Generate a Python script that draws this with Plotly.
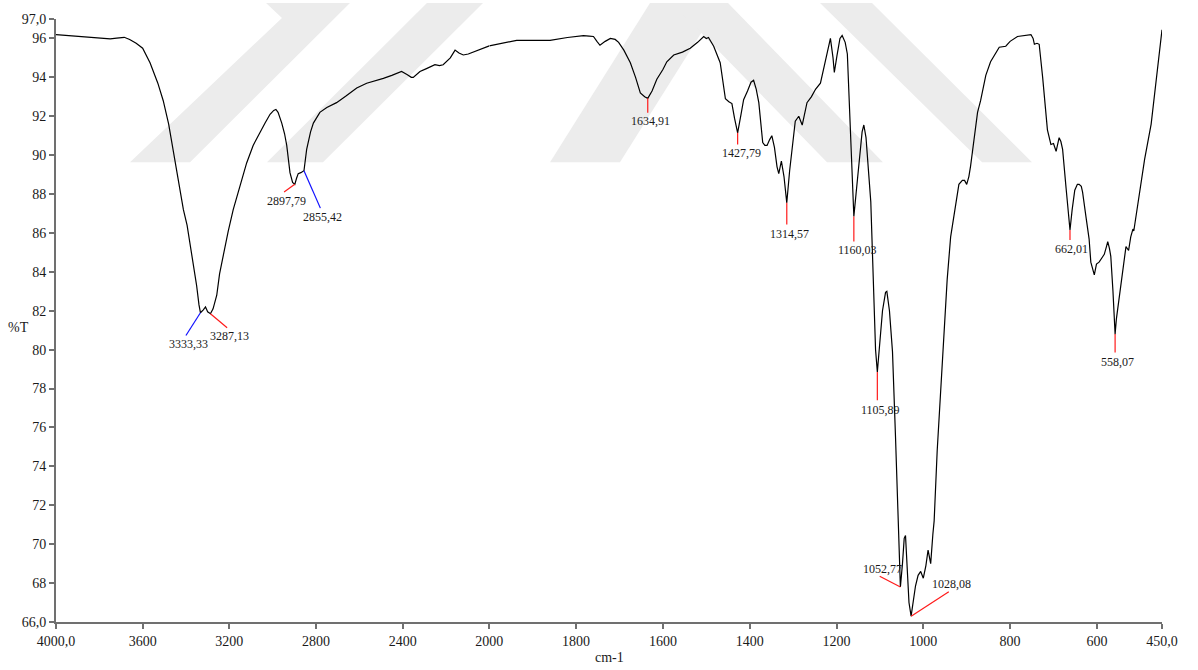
import plotly.graph_objects as go

# FTIR spectrum: wavenumber (cm-1) and transmittance (%T)
wavenumber = [
    4000, 3950, 3900, 3850, 3800, 3750, 3720, 3700, 3685, 3660, 3630, 3600,
    3566, 3530, 3505, 3480, 3451, 3430, 3412, 3395, 3382, 3365, 3351, 3340,
    3333.33, 3320, 3310, 3300, 3287.13, 3275, 3258, 3245, 3228, 3205, 3182,
    3150, 3120, 3090, 3058, 3035, 3012, 2995, 2985, 2975, 2958, 2945, 2935,
    2920, 2908, 2897.79, 2890, 2882, 2870, 2855.42, 2843, 2825, 2812, 2795,
    2782, 2750, 2705, 2660, 2612, 2566, 2530, 2489, 2450, 2405, 2380, 2360,
    2351, 2320, 2290, 2251, 2230, 2213, 2180, 2158, 2140, 2120, 2097, 2060,
    2028, 2000, 1970, 1937, 1900, 1860, 1820, 1783, 1770, 1760, 1752, 1745,
    1733, 1721, 1710, 1702, 1690, 1675, 1663, 1652, 1642, 1634.91, 1625, 1614,
    1600, 1591, 1575, 1555, 1537, 1520, 1506, 1500, 1495, 1483, 1468, 1460,
    1456, 1448, 1441, 1435, 1427.79, 1420, 1414, 1405, 1397, 1391, 1385, 1379,
    1374, 1370, 1365, 1360, 1354, 1349, 1343, 1337, 1333, 1327, 1321, 1314.57,
    1308, 1300, 1295, 1287, 1279, 1268, 1258, 1248, 1237, 1228, 1220, 1214,
    1208, 1205, 1199, 1192, 1187, 1180, 1175, 1168, 1163, 1160.03, 1155, 1148,
    1141, 1137, 1132, 1121, 1113, 1110, 1105.89, 1100, 1094, 1087, 1084, 1078,
    1071, 1064, 1060, 1055, 1052.77, 1048, 1044, 1041, 1037, 1033, 1028.08,
    1023, 1018, 1012, 1006, 1000, 994, 989, 985, 983, 978, 975, 968, 960, 952,
    945, 937, 929, 918, 910, 905, 900, 895, 891, 882, 875, 868, 856, 845, 837,
    825, 810, 800, 783, 770, 760, 752, 747, 744, 738, 733, 725, 714, 706, 700,
    694, 687, 683, 679, 671, 666, 662.01, 657, 651, 645, 641, 636, 633, 625,
    618, 614, 610, 606, 601, 595, 589, 583, 578, 575, 571, 568, 563, 558.07,
    555, 552, 546, 540, 533, 530, 527, 522, 517, 515, 500, 490, 475, 462, 450,
]
transmittance = [
    96.20, 96.15, 96.12, 96.05, 96.00, 95.98, 96.02, 96.05, 96.06, 95.95, 95.75, 95.50,
    94.75, 93.70, 92.80, 91.60, 89.80, 88.40, 87.20, 86.40, 85.50, 84.40, 83.30, 82.30,
    81.90, 82.05, 82.20, 81.95, 81.85, 82.10, 82.80, 83.90, 84.90, 86.10, 87.20,
    88.50, 89.60, 90.50, 91.20, 91.65, 92.10, 92.30, 92.35, 92.20, 91.65, 91.10, 90.50,
    89.10, 88.60, 88.50, 88.80, 89.05, 89.10, 89.20, 90.30, 91.20, 91.65, 92.00,
    92.20, 92.45, 92.70, 93.05, 93.45, 93.70, 93.80, 93.95, 94.10, 94.30, 94.15, 94.00,
    94.00, 94.30, 94.45, 94.65, 94.60, 94.65, 95.00, 95.40, 95.25, 95.15, 95.20, 95.35,
    95.50, 95.62, 95.75, 95.90, 95.90, 95.90, 96.05, 96.15, 96.12, 96.10, 95.85, 95.65,
    95.85, 96.00, 95.95, 95.80, 95.40, 94.75, 94.00, 93.20, 93.00, 92.92, 93.30, 93.90,
    94.40, 94.80, 95.15, 95.30, 95.50, 95.80, 96.10, 96.00, 96.05, 95.60, 94.75, 93.60,
    92.90, 92.75, 92.65, 91.90, 91.15, 92.10, 92.85, 93.30, 93.75, 93.85, 93.40, 92.70,
    91.50, 90.65, 90.50, 90.50, 90.80, 91.00, 90.40, 89.40, 89.05, 89.70, 88.90, 87.55,
    89.20, 91.00, 91.75, 92.00, 91.55, 92.70, 93.00, 93.40, 93.70, 94.60, 95.50, 96.00,
    95.00, 94.25, 95.10, 96.00, 96.15, 95.80, 95.20, 91.50, 88.00, 86.85, 88.00, 89.80,
    91.20, 91.55, 90.90, 87.60, 82.50, 80.00, 78.85, 80.30, 82.00, 82.95, 83.00, 82.00,
    79.90, 75.50, 72.90, 69.50, 67.80, 69.00, 70.30, 70.45, 68.80, 67.00, 66.30,
    67.20, 67.85, 68.40, 68.60, 68.25, 68.90, 69.70, 69.30, 69.00, 70.50, 71.20, 74.80, 78.00, 80.80,
    83.60, 85.80, 87.00, 88.50, 88.70, 88.70, 88.50, 88.90, 89.45, 91.00, 92.20, 92.80, 94.10, 94.80, 95.10,
    95.55, 95.60, 95.85, 96.10, 96.15, 96.20, 96.20, 96.00, 95.70, 95.75, 95.70, 94.00, 91.30, 90.55, 90.60,
    90.20, 90.90, 90.70, 90.30, 88.30, 87.00, 86.15, 87.20, 88.20, 88.50, 88.50, 88.40, 88.10, 86.80,
    85.70, 84.50, 84.10, 83.85, 84.40, 84.50, 84.70, 84.90, 85.30, 85.55, 85.20, 84.80, 83.00, 80.80,
    81.60, 82.10, 83.00, 83.85, 85.30, 85.20, 85.10, 85.80, 86.20, 86.10, 88.40, 89.80, 91.60, 94.00, 96.45,
]

# Labelled bands
peak_wavenumber = [3333.33, 3287.13, 2897.79, 2855.42, 1634.91, 1427.79, 1314.57,
                   1160.03, 1105.89, 1052.77, 1028.08, 662.01, 558.07]
peak_transmittance = [81.90, 81.85, 88.50, 89.20, 92.92, 91.15, 87.55,
                      86.85, 78.85, 67.80, 66.30, 86.15, 80.80]
peak_label = ["3333,33", "3287,13", "2897,79", "2855,42", "1634,91", "1427,79", "1314,57",
              "1160,03", "1105,89", "1052,77", "1028,08", "662,01", "558,07"]

# Axis ticks (the wavenumber scale is expanded below 2000 cm-1)
x_hi_ticks = [4000, 3600, 3200, 2800, 2400]
x_hi_text = ["4000,0", "3600", "3200", "2800", "2400"]
x_lo_ticks = [2000, 1800, 1600, 1400, 1200, 1000, 800, 600, 450]
x_lo_text = ["2000", "1800", "1600", "1400", "1200", "1000", "800", "600", "450,0"]
y_ticks = [66, 68, 70, 72, 74, 76, 78, 80, 82, 84, 86, 88, 90, 92, 94, 96, 97]
y_text = ["66,0", "68", "70", "72", "74", "76", "78", "80", "82", "84", "86", "88",
          "90", "92", "94", "96", "97,0"]

# ---- leader-line styling: (colour, line dx, line dy, label dx, label dy) in pixels,
# dy measured downwards on screen
leaders = [
    ("#1010ff", -14.5, 22.8, -12, 31),
    ("#ff1a1a", 16.7, 14.0, 19.5, 22),
    ("#ff1a1a", -10.7, 7.6, -8, 17),
    ("#1010ff", 16.4, 37.4, 19, 46.7),
    ("#ff1a1a", 0, 14.3, 2.7, 22.3),
    ("#ff1a1a", 0, 11.7, 3.4, 20),
    ("#ff1a1a", 0, 21.7, 3, 30.7),
    ("#ff1a1a", 0, 25.0, 3.4, 33.4),
    ("#ff1a1a", 0, 28.3, 3.3, 38.3),
    ("#ff1a1a", -20.7, -10.7, -18.3, -18.4),
    ("#ff1a1a", 37.7, -24.3, 40, -32),
    ("#ff1a1a", 0, 10.0, 1.4, 19.4),
    ("#ff1a1a", 0, 18.3, 2.4, 27.6),
]

W, H = 1198, 670
ML, MR, MT, MB = 56, 36, 16, 48
PW, PH = W - ML - MR, H - MT - MB
SPLIT = 2000.0
# 2000 cm-1 sits at 433.3 px of the 1106 px plot width
split_frac = 433.3 / PW

hi = [(w, t) for w, t in zip(wavenumber, transmittance) if w >= SPLIT]
lo = [(w, t) for w, t in zip(wavenumber, transmittance) if w <= SPLIT]

fig = go.Figure()
fig.add_trace(go.Scatter(x=[p[0] for p in hi], y=[p[1] for p in hi], mode="lines",
                         line=dict(color="#000000", width=1.2), xaxis="x", yaxis="y",
                         hoverinfo="skip"))
fig.add_trace(go.Scatter(x=[p[0] for p in lo], y=[p[1] for p in lo], mode="lines",
                         line=dict(color="#000000", width=1.2), xaxis="x2", yaxis="y",
                         hoverinfo="skip"))

FONT = "Liberation Serif, Times New Roman, serif"
tickfont = dict(family=FONT, size=14, color="#1a1a1a")
AXIS_COLOR = "#707070"

# Background watermark stripes, given as page-pixel polygons
def px_path(points):
    pts = [((x - ML) / PW, (H - MB - y) / PH) for x, y in points]
    return "M " + " L ".join(f"{a:.4f},{b:.4f}" for a, b in pts) + " Z"

watermark_polys = [
    [(130, 160), (190, 160), (350, 0), (266, 0), (282, 15)],
    [(267, 160), (323, 160), (483, 0), (427, 0)],
    [(550, 160), (620, 160), (720, 0), (650, 0)],
    [(672, 0), (728, 0), (883, 160), (827, 160)],
    [(820, 0), (872, 0), (1032, 160), (982, 160)],
]
shapes = [dict(type="path", path=px_path(p), xref="paper", yref="paper",
               fillcolor="#ececec", line=dict(width=0), layer="below")
          for p in watermark_polys]

annotations = []
for w, t, lab, (col, ldx, ldy, tdx, tdy) in zip(peak_wavenumber, peak_transmittance,
                                               peak_label, leaders):
    xr = "x" if w >= SPLIT else "x2"
    shapes.append(dict(type="line", xref=xr, yref="y", xsizemode="pixel", ysizemode="pixel",
                       xanchor=w, yanchor=t, x0=0, x1=ldx, y0=0, y1=-ldy,
                       line=dict(color=col, width=1.2), layer="above"))
    annotations.append(dict(x=w, y=t, xref=xr, yref="y", text=lab, showarrow=False,
                            xshift=tdx, yshift=-tdy, xanchor="center", yanchor="middle",
                            font=dict(family=FONT, size=12, color="#1a1a1a")))

annotations.append(dict(x=0.5, y=-(657.5 - (H - MB)) / PH, xref="paper", yref="paper",
                        text="cm-1", showarrow=False, xanchor="center", yanchor="middle",
                        font=dict(family=FONT, size=14, color="#1a1a1a")))
annotations.append(dict(x=-(ML - 18.3) / PW, y=(H - MB - 326) / PH, xref="paper", yref="paper",
                        text="%T", showarrow=False, xanchor="center", yanchor="middle",
                        font=dict(family=FONT, size=14, color="#1a1a1a")))

common_x = dict(showline=True, linecolor=AXIS_COLOR, linewidth=2, ticks="outside",
                ticklen=5, tickwidth=1.5, tickcolor=AXIS_COLOR, showgrid=False,
                zeroline=False, tickfont=tickfont, anchor="y", fixedrange=True)

fig.update_layout(
    width=W, height=H,
    margin=dict(l=ML, r=MR, t=MT, b=MB, pad=0),
    paper_bgcolor="#ffffff", plot_bgcolor="rgba(0,0,0,0)",
    showlegend=False,
    xaxis=dict(domain=[0, split_frac], range=[4000, SPLIT], tickmode="array",
               tickvals=x_hi_ticks, ticktext=x_hi_text, **common_x),
    xaxis2=dict(domain=[split_frac, 1], range=[SPLIT, 450], tickmode="array",
                tickvals=x_lo_ticks, ticktext=x_lo_text, **common_x),
    yaxis=dict(domain=[0, 1], range=[66, 97], tickmode="array", tickvals=y_ticks,
               ticktext=y_text, showline=True, linecolor=AXIS_COLOR, linewidth=2,
               ticks="outside", ticklen=5, tickwidth=1.5, tickcolor=AXIS_COLOR,
               showgrid=False, zeroline=False, tickfont=tickfont, anchor="x",
               fixedrange=True),
    shapes=shapes,
    annotations=annotations,
)

fig.write_html("out.html")
